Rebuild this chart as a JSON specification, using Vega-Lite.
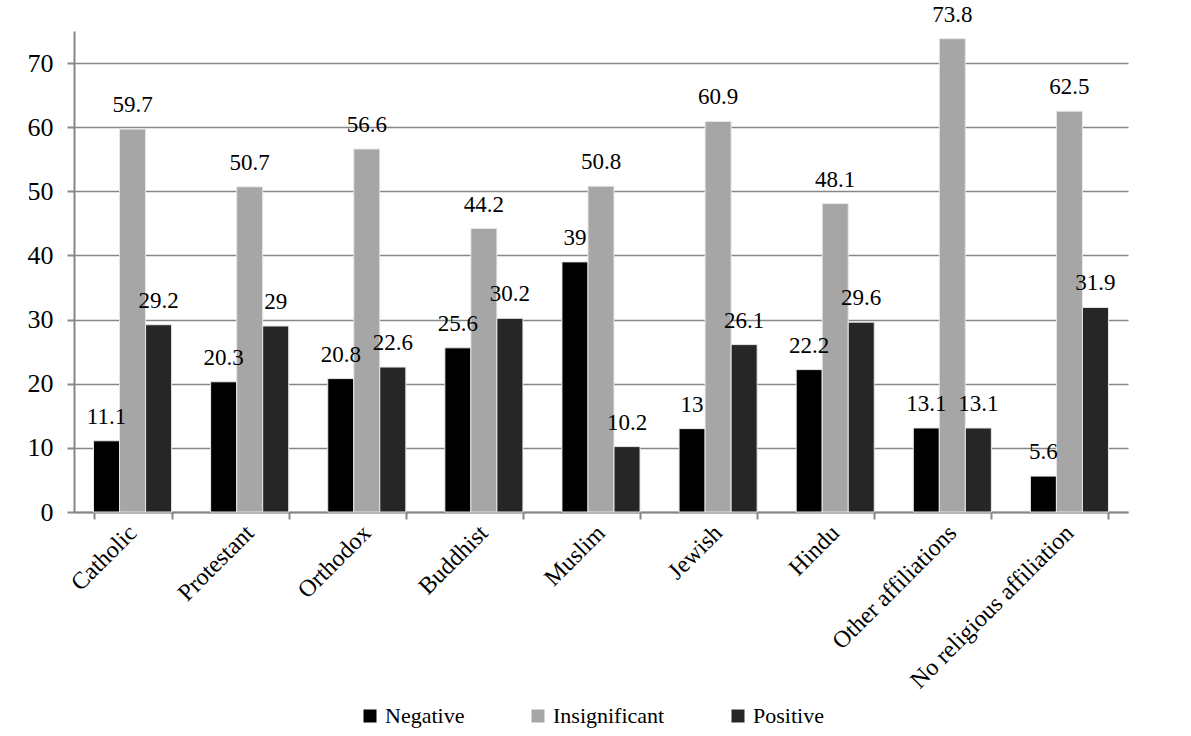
{
  "$schema": "https://vega.github.io/schema/vega-lite/v6.json",
  "autosize": {"type": "none"},
  "width": 1054,
  "height": 481,
  "padding": {"left": 74, "top": 31, "right": 63, "bottom": 224},
  "background": "white",
  "data": {
    "values": [
      {"affiliation": "Catholic", "effect": "Negative", "value": 11.1},
      {"affiliation": "Catholic", "effect": "Insignificant", "value": 59.7},
      {"affiliation": "Catholic", "effect": "Positive", "value": 29.2},
      {"affiliation": "Protestant", "effect": "Negative", "value": 20.3},
      {"affiliation": "Protestant", "effect": "Insignificant", "value": 50.7},
      {"affiliation": "Protestant", "effect": "Positive", "value": 29},
      {"affiliation": "Orthodox", "effect": "Negative", "value": 20.8},
      {"affiliation": "Orthodox", "effect": "Insignificant", "value": 56.6},
      {"affiliation": "Orthodox", "effect": "Positive", "value": 22.6},
      {"affiliation": "Buddhist", "effect": "Negative", "value": 25.6},
      {"affiliation": "Buddhist", "effect": "Insignificant", "value": 44.2},
      {"affiliation": "Buddhist", "effect": "Positive", "value": 30.2},
      {"affiliation": "Muslim", "effect": "Negative", "value": 39},
      {"affiliation": "Muslim", "effect": "Insignificant", "value": 50.8},
      {"affiliation": "Muslim", "effect": "Positive", "value": 10.2},
      {"affiliation": "Jewish", "effect": "Negative", "value": 13},
      {"affiliation": "Jewish", "effect": "Insignificant", "value": 60.9},
      {"affiliation": "Jewish", "effect": "Positive", "value": 26.1},
      {"affiliation": "Hindu", "effect": "Negative", "value": 22.2},
      {"affiliation": "Hindu", "effect": "Insignificant", "value": 48.1},
      {"affiliation": "Hindu", "effect": "Positive", "value": 29.6},
      {"affiliation": "Other affiliations", "effect": "Negative", "value": 13.1},
      {"affiliation": "Other affiliations", "effect": "Insignificant", "value": 73.8},
      {"affiliation": "Other affiliations", "effect": "Positive", "value": 13.1},
      {"affiliation": "No religious affiliation", "effect": "Negative", "value": 5.6},
      {"affiliation": "No religious affiliation", "effect": "Insignificant", "value": 62.5},
      {"affiliation": "No religious affiliation", "effect": "Positive", "value": 31.9}
    ]
  },
  "encoding": {
    "x": {
      "field": "affiliation",
      "type": "nominal",
      "sort": null,
      "scale": {"paddingInner": 0.3333, "paddingOuter": 0.1667},
      "axis": {
        "title": null,
        "labelAngle": -45,
        "labelAlign": "right",
        "labelBaseline": "middle",
        "labelFont": "Liberation Serif",
        "labelFontSize": 24,
        "labelColor": "black",
        "labelPadding": 10,
        "labelLimit": 500,
        "tickBand": "extent",
        "tickSize": 7,
        "tickColor": "#868686",
        "tickWidth": 2,
        "domainColor": "#868686",
        "domainWidth": 2,
        "grid": false
      }
    },
    "xOffset": {"field": "effect", "type": "nominal", "sort": ["Negative", "Insignificant", "Positive"]},
    "y": {
      "field": "value",
      "type": "quantitative",
      "scale": {"domain": [0, 75], "nice": false},
      "axis": {
        "title": null,
        "values": [0, 10, 20, 30, 40, 50, 60, 70],
        "labelFont": "Liberation Serif",
        "labelFontSize": 26,
        "labelColor": "black",
        "labelPadding": 14,
        "tickSize": 7,
        "tickColor": "#868686",
        "tickWidth": 2,
        "domainColor": "#868686",
        "domainWidth": 2,
        "gridColor": "#868686",
        "gridWidth": 1.5
      }
    }
  },
  "layer": [
    {
      "mark": {"type": "bar", "stroke": "#e8e8e8", "strokeWidth": 1},
      "encoding": {
        "color": {
          "field": "effect",
          "type": "nominal",
          "sort": ["Negative", "Insignificant", "Positive"],
          "scale": {"domain": ["Negative", "Insignificant", "Positive"], "range": ["#000000", "#a6a6a6", "#262626"]},
          "legend": {
            "title": null,
            "orient": "none",
            "direction": "horizontal",
            "legendX": 285,
            "legendY": 674,
            "symbolType": "square",
            "symbolSize": 169,
            "symbolStrokeWidth": 0,
            "labelFont": "Liberation Serif",
            "labelFontSize": 22,
            "labelColor": "black",
            "labelOffset": 4,
            "labelLimit": 300,
            "columnPadding": 62
          }
        }
      }
    },
    {
      "mark": {"type": "text", "baseline": "alphabetic", "dy": -17, "font": "Liberation Serif", "fontSize": 23, "color": "black"},
      "encoding": {"text": {"field": "value", "type": "quantitative"}}
    }
  ],
  "config": {"view": {"stroke": null}}
}
